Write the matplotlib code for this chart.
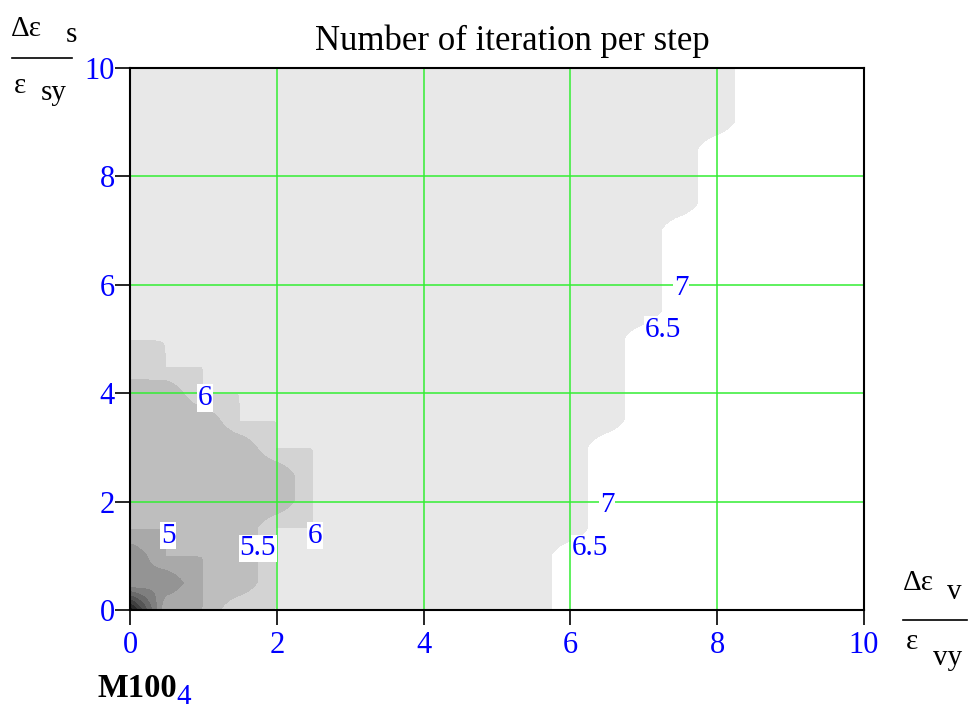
import numpy as np
import matplotlib.pyplot as plt
from matplotlib.lines import Line2D

plt.rcParams['font.family'] = ['Liberation Serif', 'DejaVu Serif']

W, H = 972, 713

# computed points: strain increment ratios, step 0.5 on both axes
x_nodes = np.arange(0, 10.01, 0.5)
y_nodes = np.arange(0, 10.01, 0.5)

# iterations per step near the origin, rows y = 0 .. 5, cols x = 0 .. 2.5
corner_iter = [
    [1.0, 5, 5, 6, 6, 6],   # y = 0
    [4.5, 4, 5, 5, 6, 6],   # y = 0.5
    [4.0, 5, 5, 5, 6, 6],   # y = 1.0
    [5.0, 5, 5, 5, 6, 6],   # y = 1.5
    [5.0, 5, 5, 5, 5, 6],   # y = 2.0
    [5.0, 5, 5, 5, 5, 6],   # y = 2.5
    [5.0, 5, 5, 5, 6, 6],   # y = 3.0
    [5.0, 5, 5, 6, 6, 6],   # y = 3.5
    [5.0, 5, 6, 6, 6, 6],   # y = 4.0
    [5.9, 6, 6, 6, 6, 6],   # y = 4.5
    [6.0, 6, 6, 6, 6, 6],   # y = 5.0
]
plain_iter = 6
high_iter = 7
# for every row y = 0 .. 10, the x from which the count is 7
seven_from_x = [6.0, 6.0, 6.0, 6.5, 6.5, 6.5, 6.5, 7.0, 7.0, 7.0, 7.0,
                7.5, 7.5, 7.5, 7.5, 8.0, 8.0, 8.0, 8.5, 8.5, 8.5]

levels = [1, 1.5, 2, 2.5, 3, 3.5, 4, 4.5, 5, 5.5, 6, 6.5]

label_text = ['6', '5', '5.5', '6', '6.5', '7', '6.5', '7']
label_x = [1.02, 0.52, 1.74, 2.52, 6.27, 6.50, 7.26, 7.51]
label_y = [3.91, 1.37, 1.14, 1.37, 1.14, 1.94, 5.17, 5.94]


def bilinear(xs, ys, z, k=20):
    # fill each cell the way the contour plot interpolates it
    fx = np.linspace(xs[0], xs[-1], (len(xs) - 1) * k + 1)
    fy = np.linspace(ys[0], ys[-1], (len(ys) - 1) * k + 1)
    zx = np.array([np.interp(fx, xs, row) for row in z])
    zf = np.array([np.interp(fy, ys, col) for col in zx.T]).T
    return fx, fy, zf


Z = np.full((len(y_nodes), len(x_nodes)), float(plain_iter))
for j, x0 in enumerate(seven_from_x):
    Z[j, x_nodes >= x0 - 1e-9] = high_iter
c = np.array(corner_iter, dtype=float)
Z[:c.shape[0], :c.shape[1]] = c

fx, fy, fz = bilinear(x_nodes, y_nodes, Z)

eps = 1e-3
lv = [l - eps for l in levels] + [20]
greys = [(22 + 21 * i) / 255 for i in range(len(levels) - 1)] + [1.0]
cols = [(g, g, g) for g in greys]

fig = plt.figure(figsize=(W / 100, H / 100), dpi=100)
ax = fig.add_axes([130 / W, 1 - 610 / H, (864 - 130) / W, (610 - 68) / H])
ax.contourf(fx, fy, fz, levels=lv, colors=cols)

ax.set_xlim(0, 10)
ax.set_ylim(0, 10)
ax.set_xticks(range(0, 11, 2))
ax.set_yticks(range(0, 11, 2))
ax.tick_params(direction='out', length=11, width=1.2, color='black',
               labelcolor='#0000ff', labelsize=22)
ax.tick_params(axis='y', pad=0)
ax.tick_params(axis='x', pad=4)
for s in ax.spines.values():
    s.set_linewidth(1.5)
    s.set_color('black')
for v in [2, 4, 6, 8]:
    ax.axvline(v, color='#33ee33', lw=1.1, zorder=2)
    ax.axhline(v, color='#33ee33', lw=1.1, zorder=2)

for t, x, y in zip(label_text, label_x, label_y):
    ax.text(x, y, t, color='#0000ff', fontsize=21, ha='center', va='center',
            zorder=4, bbox=dict(facecolor='white', edgecolor='none', pad=0.5))


def px(x, y):
    return x / W, 1 - y / H


fig.text(*px(512, 41), 'Number of iteration per step', fontsize=25,
         ha='center', va='center')

# axis quantities written as fractions
fig.text(*px(11, 36), '\u0394\u03b5', fontsize=21, ha='left', va='baseline')
fig.text(*px(66, 42), 's', fontsize=21, ha='left', va='baseline')
fig.add_artist(Line2D([12 / W, 72 / W], [1 - 58 / H] * 2, color='black', lw=1.2))
fig.text(*px(14, 93), '\u03b5', fontsize=21, ha='left', va='baseline')
fig.text(*px(41, 100), 'sy', fontsize=21, ha='left', va='baseline')

fig.text(*px(903, 590), '\u0394\u03b5', fontsize=21, ha='left', va='baseline')
fig.text(*px(947, 599), 'v', fontsize=21, ha='left', va='baseline')
fig.add_artist(Line2D([903 / W, 967 / W], [1 - 620 / H] * 2, color='black', lw=1.2))
fig.text(*px(906, 649), '\u03b5', fontsize=21, ha='left', va='baseline')
fig.text(*px(933, 665), 'vy', fontsize=21, ha='left', va='baseline')

fig.text(*px(97, 697), 'M100', fontsize=23.5, fontweight='bold', ha='left', va='baseline')
fig.text(*px(176, 704), '4', fontsize=21, color='#0000ff', ha='left', va='baseline')

fig.savefig('out.png', dpi=100)
